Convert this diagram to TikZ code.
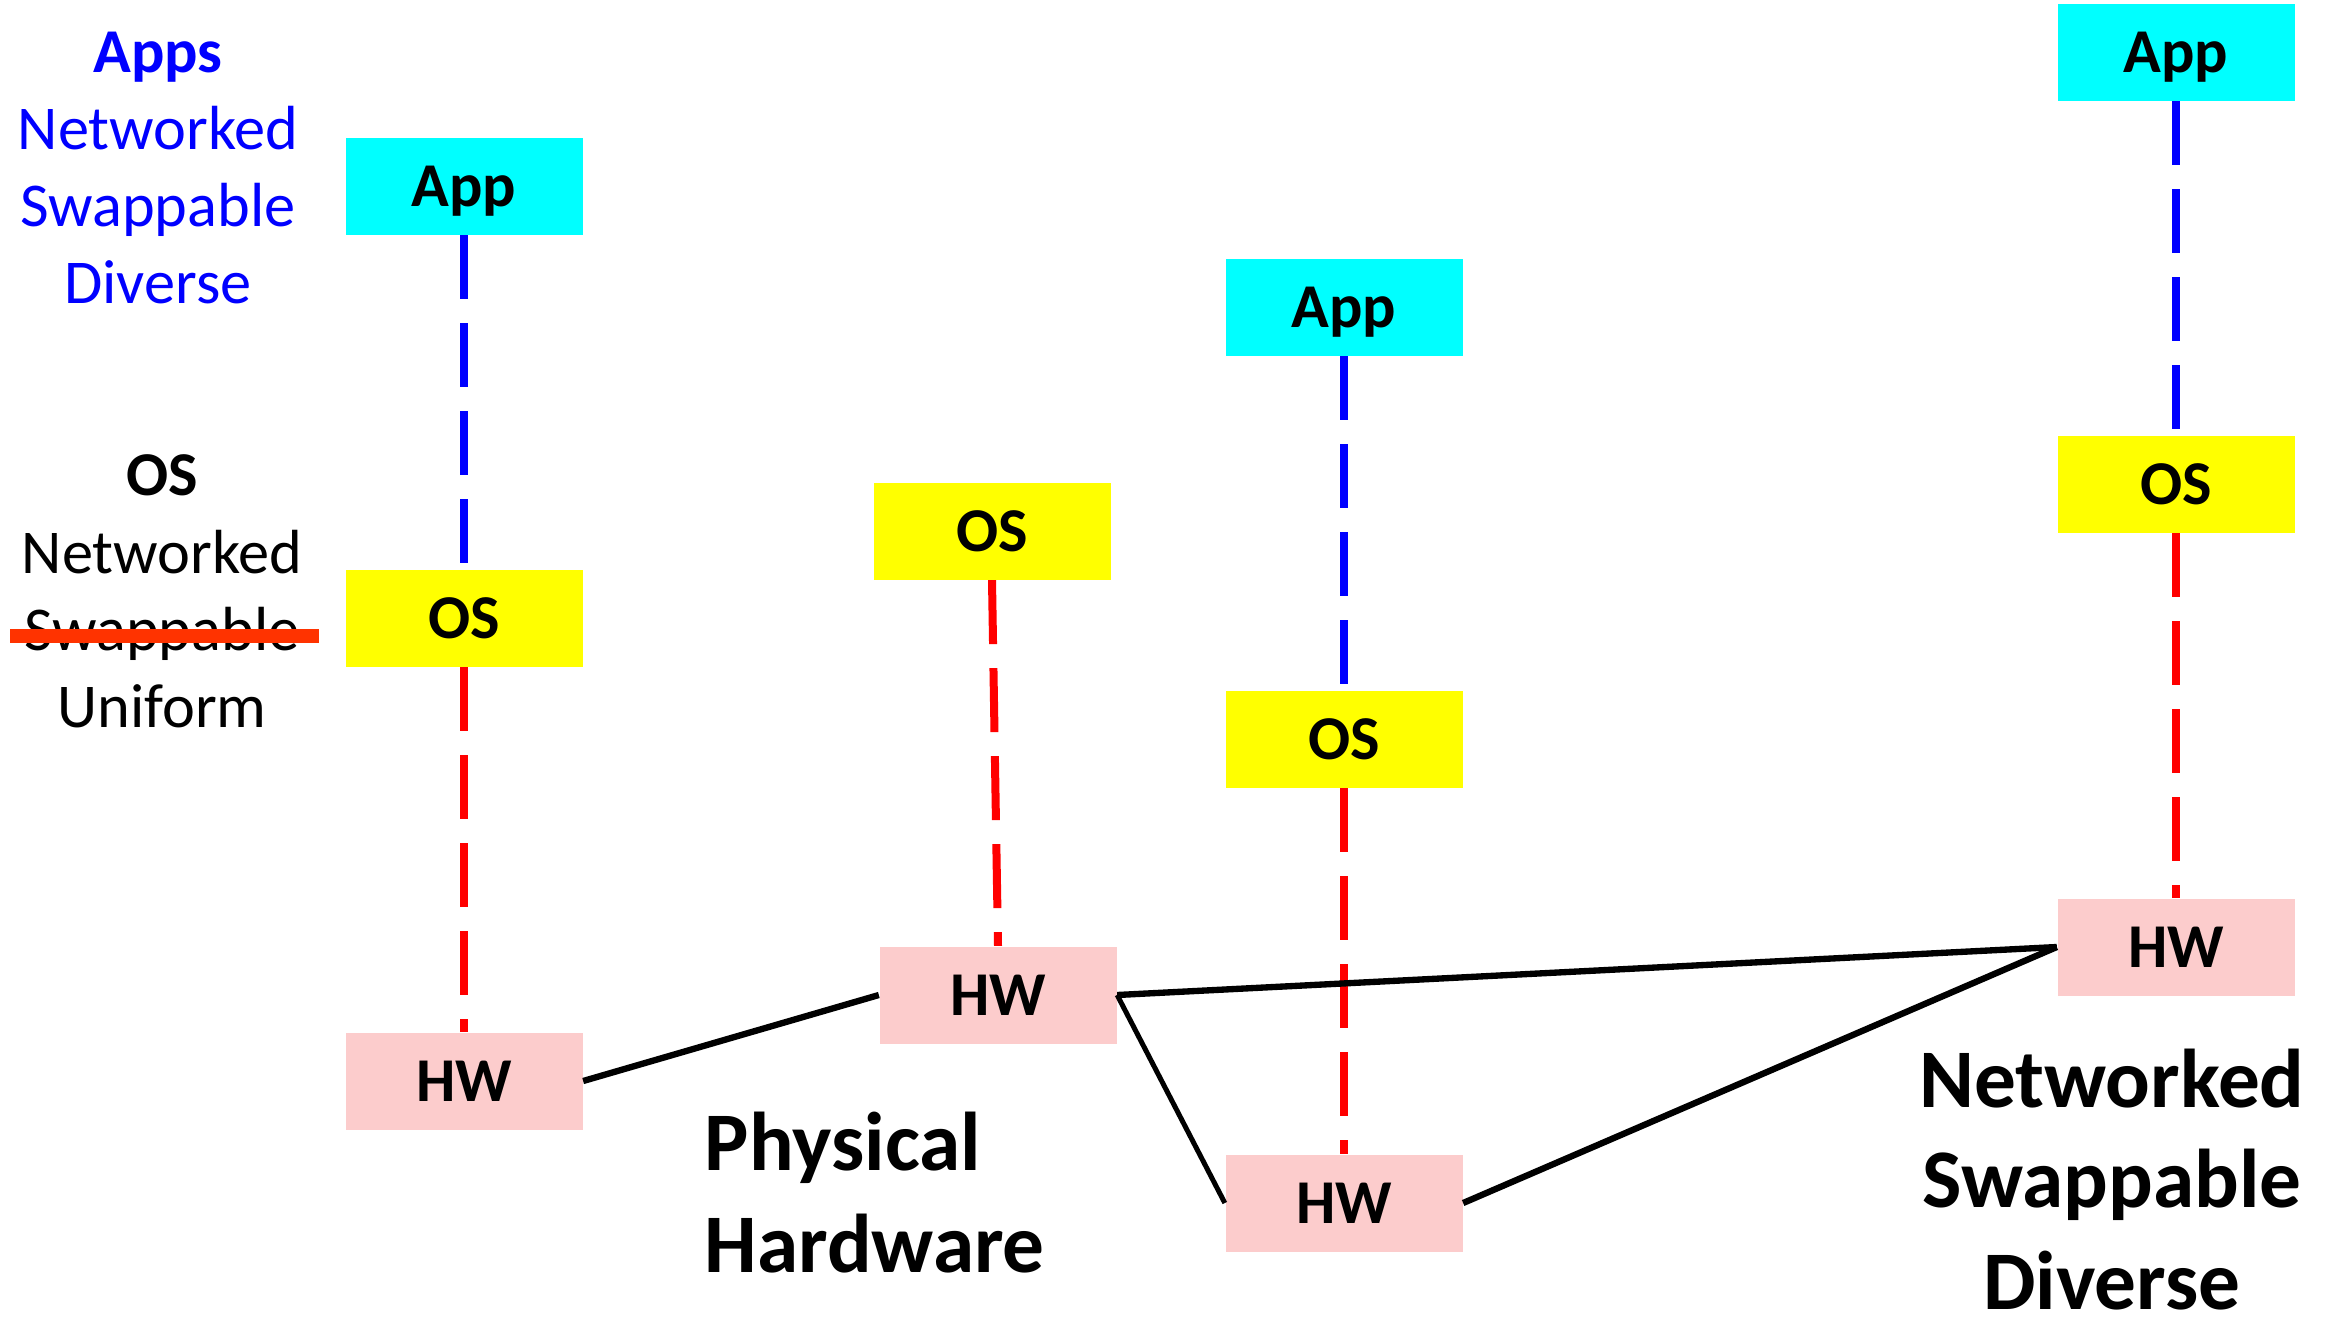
\documentclass[tikz,border=0pt]{standalone}
\usepackage{fontspec}
\setmainfont{Carlito}
\definecolor{appcyan}{HTML}{00FFFF}
\definecolor{osyellow}{HTML}{FFFF00}
\definecolor{hwpink}{HTML}{FCCCCC}
\definecolor{strikered}{HTML}{FF3300}
\begin{document}
\begin{tikzpicture}[x=0.3pt,y=-0.3pt,
  box/.style={minimum width=71.1pt, minimum height=29.1pt, inner sep=0pt,
    text height=12pt, text depth=0pt, font=\fontsize{18.7}{22}\selectfont\bfseries},
  appbox/.style={box, fill=appcyan},
  osbox/.style={box, fill=osyellow},
  hwbox/.style={box, fill=hwpink},
  bluedash/.style={draw=blue, line width=2.4pt, dash pattern=on 19.2pt off 7.2pt},
  reddash/.style={draw=red, line width=2.4pt, dash pattern=on 19.2pt off 7.2pt},
  net/.style={draw=black, line width=1.9pt},
  thinnet/.style={draw=black, line width=1.5pt},
  lbl/.style={font=\fontsize{18.7}{22}\selectfont, anchor=base, inner sep=0pt},
  big/.style={font=\fontsize{25}{30}\selectfont\bfseries, anchor=base, inner sep=0pt},
  strike/.style={draw=strikered, line width=4.2pt}]
\useasboundingbox (0,0) rectangle (2330,1326);

% boxes
\node[appbox] (app1) at (464,186) {App};
\node[osbox]  (os1)  at (464,618) {OS};
\node[hwbox]  (hw1)  at (464,1081) {HW};

\node[osbox]  (os2)  at (992,531) {OS};
\node[hwbox]  (hw2)  at (998,995) {HW};

\node[appbox] (app3) at (1344,307) {App};
\node[osbox]  (os3)  at (1344,739) {OS};
\node[hwbox]  (hw3)  at (1344,1203) {HW};

\node[appbox] (app4) at (2176,52) {App};
\node[osbox]  (os4)  at (2176,484) {OS};
\node[hwbox]  (hw4)  at (2176,947) {HW};

% vertical dashed links
\draw[bluedash] (app1.south) -- (os1.north);
\draw[reddash]  (os1.south) -- (hw1.north);
\draw[reddash]  (os2.south) -- (hw2.north);
\draw[bluedash] (app3.south) -- (os3.north);
\draw[reddash]  (os3.south) -- (hw3.north);
\draw[bluedash] (app4.south) -- (os4.north);
\draw[reddash]  (os4.south) -- (hw4.north);

% hardware network
\draw[net] (hw1.east) -- (hw2.west);
\draw[net] (hw2.east) -- (hw4.west);
\draw[thinnet] (hw2.east) -- (hw3.west);
\draw[net] (hw3.east) -- (hw4.west);

% left labels: apps
\node[lbl, text=blue, font=\fontsize{18.7}{22}\selectfont\bfseries] (tapps) at (158,72) {Apps};
\node[lbl, text=blue] (tanet) at (158,149) {Networked};
\node[lbl, text=blue] (taswap) at (158,226) {Swappable};
\node[lbl, text=blue] (tadiv) at (158,303) {Diverse};

% left labels: OS
\node[lbl, font=\fontsize{18.7}{22}\selectfont\bfseries] (tos) at (162,495) {OS};
\node[lbl] (tonet) at (162,573) {Networked};
\node[lbl] (toswap) at (162,650) {Swappable};
\node[lbl] (touni) at (162,727) {Uniform};
\coordinate (s1) at (10,636);
\coordinate (s2) at (319,636);
\draw[strike] (s1) -- (s2);

% physical hardware
\node[big, anchor=base west] (tphys) at (704,1170) {Physical};
\node[big, anchor=base west] (thard) at (704,1272) {Hardware};

% right label
\node[big] (trnet) at (2112,1107) {Networked};
\node[big] (trswap) at (2112,1207) {Swappable};
\node[big] (trdiv) at (2112,1309) {Diverse};
\end{tikzpicture}
\end{document}
